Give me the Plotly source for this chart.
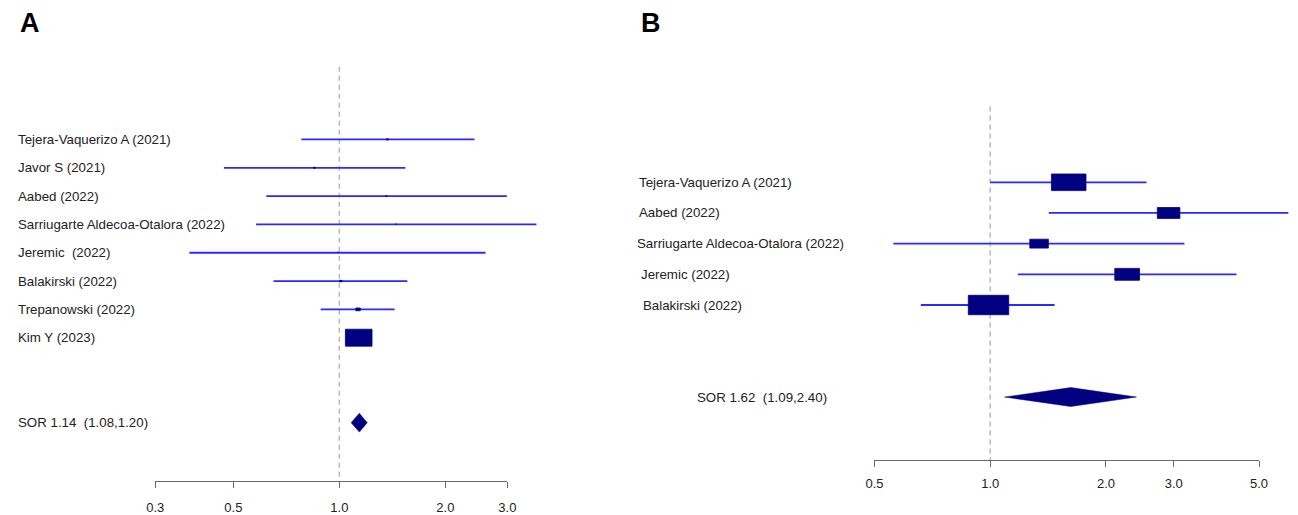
import numpy as np
import plotly.graph_objects as go

# ---------------- data ----------------
# Panel A
studies_a = ["Tejera-Vaquerizo A (2021)", "Javor S (2021)", "Aabed (2022)",
             "Sarriugarte Aldecoa-Otalora (2022)", "Jeremic  (2022)", "Balakirski (2022)",
             "Trepanowski (2022)", "Kim Y (2023)"]
or_a = [1.37, 0.85, 1.36, 1.45, 0.99, 1.01, 1.13, 1.135]
lo_a = [0.78, 0.47, 0.62, 0.58, 0.375, 0.65, 0.885, 1.09]
hi_a = [2.42, 1.54, 2.99, 3.63, 2.60, 1.56, 1.435, 1.18]
sor_a = [1.14, 1.08, 1.20]          # estimate, lower, upper
sor_label_a = "SOR 1.14  (1.08,1.20)"
ticks_a = [0.3, 0.5, 1.0, 2.0, 3.0]
ticktext_a = ["0.3", "0.5", "1.0", "2.0", "3.0"]

# Panel B
studies_b = ["Tejera-Vaquerizo A (2021)", "Aabed (2022)", "Sarriugarte Aldecoa-Otalora (2022)",
             "Jeremic (2022)", "Balakirski (2022)"]
or_b = [1.60, 2.91, 1.34, 2.27, 0.99]
lo_b = [1.00, 1.42, 0.56, 1.18, 0.66]
hi_b = [2.55, 5.96, 3.20, 4.37, 1.47]
sor_b = [1.62, 1.09, 2.40]
sor_label_b = "SOR 1.62  (1.09,2.40)"
ticks_b = [0.5, 1.0, 2.0, 3.0, 5.0]
ticktext_b = ["0.5", "1.0", "2.0", "3.0", "5.0"]

# ---------------- layout geometry (pixels) ----------------
W, H = 1298, 515
FONT = "Liberation Sans, Arial, Helvetica, sans-serif"
LINE_BLUE = "#2a2aff"
NAVY = "#000080"
LABEL_SIZE = 13.3

geo_a = dict(px0=0, px1=640, one=335, decade=357, row1=140, gap=28.43, axis_y=483,
             zero_top=67, label_x=7, sor_x=7, boxmax=27, aspect=0.63, dia_h=9.5,
             label_dx=[0] * 8, tickstand=8)
geo_b = dict(px0=640, px1=1298, one=995, decade=390, row1=183, gap=30.8, axis_y=462,
             zero_top=107, label_x=637, sor_x=696, boxmax=41, aspect=0.476, dia_h=9.5,
             label_dx=[0, 0, -2, 2, 4], tickstand=5)


def row_of(px, g):
    return 1 + (px - g["row1"]) / g["gap"]


fig = go.Figure()


def add_panel(k, studies, est, lo, hi, sor, sor_label, ticks, ticktext, g):
    xa = "x" if k == 1 else f"x{k}"
    ya = "y" if k == 1 else f"y{k}"
    n = len(studies)
    rows = np.arange(1, n + 1)
    sor_row = n + 3
    est = np.array(est); lo = np.array(lo); hi = np.array(hi)

    # zero (no-effect) dashed line
    fig.add_trace(go.Scatter(x=[1, 1], y=[row_of(g["zero_top"], g), row_of(g["axis_y"], g)],
                             mode="lines", line=dict(color="#b8b8b8", width=1.5, dash="5px,4px"),
                             xaxis=xa, yaxis=ya, hoverinfo="skip", showlegend=False))
    # CI lines
    xs, ys = [], []
    for r, l, h in zip(rows, lo, hi):
        xs += [l, h, None]; ys += [r, r, None]
    fig.add_trace(go.Scatter(x=xs, y=ys, mode="lines", line=dict(color=LINE_BLUE, width=1.8),
                             xaxis=xa, yaxis=ya, hoverinfo="skip", showlegend=False))
    # boxes: size proportional to 1/(CI width) on the log scale
    info = 1 / (np.log10(hi) - np.log10(lo))
    info = info / info.max()
    bx, by = [], []
    for r, e, s in zip(rows, est, info):
        wpx = g["boxmax"] * s
        hl = wpx / 2 / g["decade"]
        hh = wpx * g["aspect"] / 2 / g["gap"]
        x0, x1 = e * 10 ** (-hl), e * 10 ** hl
        bx += [x0, x1, x1, x0, x0, None]
        by += [r - hh, r - hh, r + hh, r + hh, r - hh, None]
    fig.add_trace(go.Scatter(x=bx, y=by, mode="lines", fill="toself", fillcolor=NAVY,
                             line=dict(color=NAVY, width=0.8),
                             xaxis=xa, yaxis=ya, hoverinfo="skip", showlegend=False))
    # summary diamond
    e, l, h = sor
    dh = g["dia_h"] / g["gap"]
    fig.add_trace(go.Scatter(x=[l, e, h, e, l], y=[sor_row, sor_row - dh, sor_row, sor_row + dh, sor_row],
                             mode="lines", fill="toself", fillcolor=NAVY, line=dict(color=NAVY, width=0.5),
                             xaxis=xa, yaxis=ya, hoverinfo="skip", showlegend=False))

    # labels
    for r, s, dx in zip(rows, studies, g["label_dx"]):
        fig.add_annotation(x=(g["label_x"] + dx) / W, xref="paper", y=r, yref=ya, text=s,
                           showarrow=False, xanchor="left", yanchor="middle",
                           font=dict(family=FONT, size=LABEL_SIZE, color="#222222"))
    fig.add_annotation(x=g["sor_x"] / W, xref="paper", y=sor_row, yref=ya, text=sor_label,
                       showarrow=False, xanchor="left", yanchor="middle",
                       font=dict(family=FONT, size=LABEL_SIZE, color="#222222"))

    # data axes
    xr = [(g["px0"] - g["one"]) / g["decade"], (g["px1"] - g["one"]) / g["decade"]]
    yr = [1 + (H - g["row1"]) / g["gap"], 1 - g["row1"] / g["gap"]]
    fig.update_layout(**{
        ("xaxis" if k == 1 else f"xaxis{k}"): dict(type="log", range=xr, domain=[g["px0"] / W, g["px1"] / W],
                                                   visible=False, fixedrange=True, anchor=ya),
        ("yaxis" if k == 1 else f"yaxis{k}"): dict(range=yr, domain=[0, 1], visible=False,
                                                   fixedrange=True, anchor=xa),
    })

    # tick axis spanning only the labelled range
    kt = k + 2
    t0, t1 = ticks[0], ticks[-1]
    d0 = (g["one"] + g["decade"] * np.log10(t0)) / W
    d1 = (g["one"] + g["decade"] * np.log10(t1)) / W
    fig.add_trace(go.Scatter(x=[1], y=[0], mode="markers", marker=dict(opacity=0),
                             xaxis=f"x{kt}", yaxis=f"y{kt}", hoverinfo="skip", showlegend=False))
    fig.update_layout(**{
        f"xaxis{kt}": dict(type="log", range=[np.log10(t0), np.log10(t1)], domain=[d0, d1],
                           anchor=f"y{kt}", tickvals=ticks, ticktext=ticktext, ticks="outside",
                           ticklen=6, tickwidth=1.2, tickcolor="#6a6a6a", showline=True,
                           linecolor="#6a6a6a", linewidth=1.2, showgrid=False, zeroline=False,
                           tickfont=dict(family=FONT, size=13, color="#222222"),
                           ticklabelstandoff=g["tickstand"], fixedrange=True),
        f"yaxis{kt}": dict(domain=[1 - g["axis_y"] / H, 1], range=[0, 1], visible=False,
                           fixedrange=True, anchor=f"x{kt}"),
    })


add_panel(1, studies_a, or_a, lo_a, hi_a, sor_a, sor_label_a, ticks_a, ticktext_a, geo_a)
add_panel(2, studies_b, or_b, lo_b, hi_b, sor_b, sor_label_b, ticks_b, ticktext_b, geo_b)

# panel letters
for letter, px in [("A", 9), ("B", 639)]:
    fig.add_annotation(x=px / W, xref="paper", y=1 - 23 / H, yref="paper", text=f"<b>{letter}</b>",
                       showarrow=False, xanchor="left", yanchor="middle",
                       font=dict(family=FONT, size=27, color="#000000"))

fig.update_layout(width=W, height=H, margin=dict(l=0, r=0, t=0, b=0), autosize=False,
                  paper_bgcolor="white", plot_bgcolor="rgba(0,0,0,0)", showlegend=False)

fig.write_html("out.html", config={"displayModeBar": False, "responsive": False},
               post_script="document.body.style.margin='0';document.body.style.padding='0';"
                           "document.body.style.overflow='hidden';")
